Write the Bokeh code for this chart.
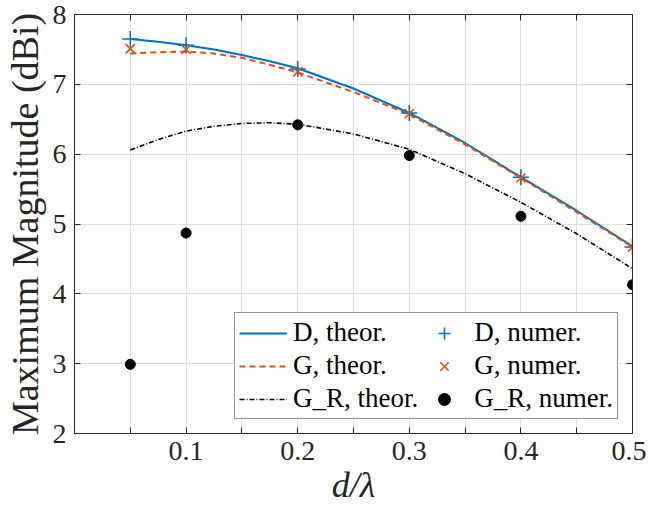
from bokeh.plotting import figure
from bokeh.models import FixedTicker, LinearAxis, Legend, LegendItem, Range1d
from bokeh.embed import file_html
from bokeh.resources import INLINE

# theoretical curves
x_theor = [0.05, 0.075, 0.1, 0.125, 0.15, 0.175, 0.2, 0.25, 0.3, 0.35, 0.4, 0.45, 0.5]
D_theor = [7.65, 7.61, 7.56, 7.50, 7.42, 7.33, 7.23, 6.94, 6.59, 6.16, 5.67, 5.19, 4.68]
G_theor = [7.44, 7.46, 7.47, 7.44, 7.38, 7.28, 7.17, 6.89, 6.57, 6.14, 5.66, 5.17, 4.67]
GR_theor = [6.06, 6.21, 6.33, 6.40, 6.44, 6.45, 6.43, 6.29, 6.07, 5.72, 5.31, 4.86, 4.36]

# numerical results
x_numer = [0.05, 0.1, 0.2, 0.3, 0.4, 0.5]
D_numer = [7.65, 7.56, 7.22, 6.59, 5.67, 4.67]
G_numer = [7.51, 7.50, 7.18, 6.58, 5.66, 4.67]
GR_numer = [2.99, 4.87, 6.42, 5.98, 5.11, 4.13]

x_major = [0.1, 0.2, 0.3, 0.4, 0.5]
x_minor = [0.05, 0.15, 0.25, 0.35, 0.45]
y_major = [2, 3, 4, 5, 6, 7, 8]

BLUE = "#0072BD"
ORANGE = "#D95319"
DARK = "#262626"
FONT = "Liberation Serif"

p = figure(width=646, height=507, output_backend="svg", toolbar_location=None,
           x_range=Range1d(0, 0.5), y_range=Range1d(2, 8),
           min_border_left=4, min_border_right=14, min_border_top=14, min_border_bottom=4)
p.outline_line_color = DARK
p.outline_line_width = 1

xt = FixedTicker(ticks=x_major, minor_ticks=x_minor)
yt = FixedTicker(ticks=y_major, minor_ticks=[])

def style_axis(ax, show_labels):
    ax.axis_line_color = DARK
    ax.major_tick_line_color = DARK
    ax.minor_tick_line_color = DARK
    ax.major_tick_in = 6
    ax.major_tick_out = 0
    ax.minor_tick_in = 6
    ax.minor_tick_out = 0
    ax.major_label_text_font = FONT
    ax.major_label_text_font_size = "28px"
    ax.major_label_text_color = DARK
    ax.major_label_standoff = 8
    if not show_labels:
        ax.major_label_text_alpha = 0
        ax.major_label_text_font_size = "1px"
        ax.major_label_standoff = 0

p.xaxis.ticker = xt
p.yaxis.ticker = yt
style_axis(p.xaxis[0], True)
style_axis(p.yaxis[0], True)
p.xaxis.axis_label = "d/λ"
p.xaxis.axis_label_text_font = FONT
p.xaxis.axis_label_text_font_size = "36px"
p.xaxis.axis_label_text_font_style = "italic"
p.xaxis.axis_label_text_color = DARK
p.xaxis.axis_label_standoff = 2
p.yaxis.axis_label = "Maximum Magnitude (dBi)"
p.yaxis.axis_label_text_font = FONT
p.yaxis.axis_label_text_font_size = "38px"
p.yaxis.axis_label_text_font_style = "normal"
p.yaxis.axis_label_text_color = DARK
p.yaxis.axis_label_standoff = 4

top_ax = LinearAxis(ticker=xt)
right_ax = LinearAxis(ticker=yt)
style_axis(top_ax, False)
style_axis(right_ax, False)
p.add_layout(top_ax, "above")
p.add_layout(right_ax, "right")

p.xgrid.ticker = xt
p.ygrid.ticker = yt
p.xgrid.grid_line_color = "#dedede"
p.xgrid.minor_grid_line_color = "#dedede"
p.ygrid.grid_line_color = "#dedede"

r1 = p.line(x_theor, D_theor, line_color=BLUE, line_width=2)
r2 = p.line(x_theor, G_theor, line_color=ORANGE, line_width=2, line_dash="6 4")
r3 = p.line(x_theor, GR_theor, line_color="black", line_width=1.6, line_dash="5 2 1 2")
r4 = p.scatter(x_numer, D_numer, marker="cross", size=16, line_color=BLUE, line_width=1.6)
r5 = p.scatter(x_numer, G_numer, marker="x", size=13, line_color=ORANGE, line_width=1.6)
r6 = p.scatter(x_numer, GR_numer, marker="circle", size=10, fill_color="black", line_color="black")

legend = Legend(items=[
    LegendItem(label="D, theor.", renderers=[r1]),
    LegendItem(label="G, theor.", renderers=[r2]),
    LegendItem(label="G_R, theor.", renderers=[r3]),
    LegendItem(label="D, numer.", renderers=[r4]),
    LegendItem(label="G, numer.", renderers=[r5]),
    LegendItem(label="G_R, numer.", renderers=[r6]),
], location="bottom_right", ncols=2)
legend.label_text_font = FONT
legend.label_text_font_size = "27px"
legend.label_text_color = "black"
legend.glyph_width = 48
legend.glyph_height = 30
legend.label_height = 30
legend.label_standoff = 6
legend.spacing = 2
legend.padding = 4
legend.margin = 14
legend.border_line_color = DARK
legend.border_line_width = 1
legend.background_fill_alpha = 1
p.add_layout(legend, "center")

open("out.html", "w").write(file_html(p, INLINE))
